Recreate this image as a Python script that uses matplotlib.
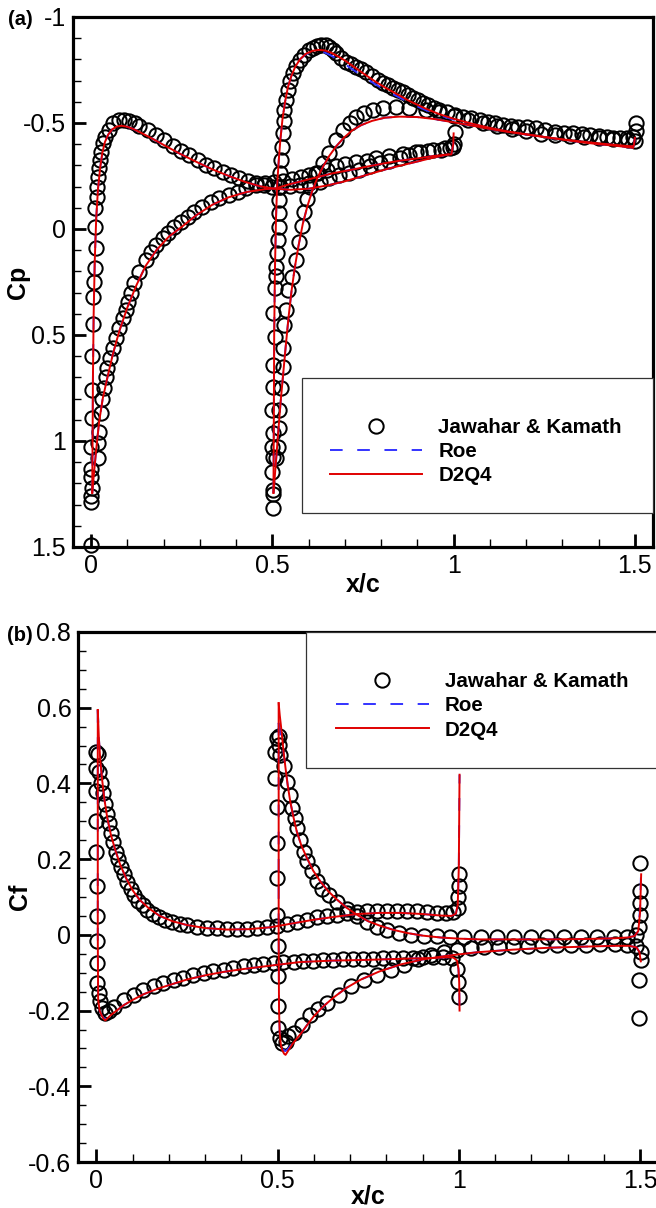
import matplotlib
matplotlib.use('Agg')
import matplotlib.pyplot as plt
from matplotlib.ticker import MultipleLocator, FuncFormatter
from matplotlib.patches import Rectangle
from matplotlib.lines import Line2D

plt.rcParams['font.family'] = ['Liberation Sans', 'DejaVu Sans']
plt.rcParams['axes.unicode_minus'] = False

# ---------------- Panel (a): Cp ----------------
# D2Q4 lines
a1u_x = [0.003, 0.004, 0.005, 0.007, 0.010, 0.014, 0.019, 0.025, 0.031, 0.038, 0.047, 0.058, 0.070, 0.083, 0.098, 0.115, 0.140, 0.170, 0.205, 0.245, 0.290, 0.335, 0.380, 0.425, 0.465, 0.505, 0.550, 0.600, 0.650, 0.700, 0.760, 0.820, 0.880, 0.940, 0.985]
a1u_cp = [1.245, 1.00, 0.70, 0.40, 0.15, -0.05, -0.19, -0.29, -0.36, -0.41, -0.445, -0.47, -0.483, -0.487, -0.483, -0.473, -0.452, -0.425, -0.392, -0.355, -0.317, -0.281, -0.250, -0.222, -0.202, -0.190, -0.185, -0.190, -0.205, -0.225, -0.255, -0.285, -0.310, -0.335, -0.352]
a1l_x = [0.003, 0.008, 0.014, 0.022, 0.032, 0.045, 0.060, 0.078, 0.100, 0.125, 0.150, 0.180, 0.215, 0.250, 0.290, 0.335, 0.380, 0.430, 0.480, 0.510, 0.545, 0.575, 0.620, 0.667, 0.720, 0.760, 0.810, 0.851, 0.900, 0.943, 0.975, 0.994, 0.999, 1.000]
a1l_cp = [1.245, 1.150, 1.040, 0.910, 0.800, 0.700, 0.590, 0.480, 0.370, 0.265, 0.175, 0.100, 0.035, -0.010, -0.065, -0.115, -0.150, -0.175, -0.188, -0.192, -0.210, -0.223, -0.243, -0.263, -0.280, -0.294, -0.310, -0.322, -0.333, -0.344, -0.350, -0.352, -0.400, -0.451]
a2u_x = [0.503, 0.504, 0.505, 0.507, 0.510, 0.513, 0.517, 0.522, 0.528, 0.535, 0.543, 0.552, 0.563, 0.576, 0.592, 0.610, 0.628, 0.645, 0.662, 0.680, 0.700, 0.725, 0.750, 0.780, 0.810, 0.845, 0.880, 0.920, 0.960, 1.000, 1.050, 1.100, 1.150, 1.200, 1.250, 1.300, 1.350, 1.400, 1.450, 1.490, 1.497, 1.500]
a2u_cp = [1.245, 0.900, 0.500, 0.200, -0.050, -0.200, -0.310, -0.420, -0.520, -0.600, -0.670, -0.720, -0.765, -0.800, -0.826, -0.840, -0.845, -0.842, -0.832, -0.815, -0.795, -0.765, -0.735, -0.700, -0.668, -0.635, -0.602, -0.570, -0.542, -0.520, -0.497, -0.477, -0.460, -0.447, -0.434, -0.423, -0.413, -0.404, -0.396, -0.390, -0.392, -0.430]
a2l_x = [0.503, 0.507, 0.512, 0.517, 0.523, 0.530, 0.537, 0.545, 0.553, 0.562, 0.572, 0.584, 0.597, 0.610, 0.624, 0.640, 0.657, 0.676, 0.697, 0.720, 0.745, 0.775, 0.810, 0.850, 0.900, 0.950, 1.000, 1.050, 1.100, 1.150, 1.200, 1.250, 1.300, 1.350, 1.400, 1.450, 1.495]
a2l_cp = [1.245, 1.160, 1.050, 0.940, 0.810, 0.680, 0.550, 0.410, 0.290, 0.180, 0.080, -0.025, -0.110, -0.180, -0.240, -0.295, -0.345, -0.390, -0.430, -0.465, -0.490, -0.510, -0.525, -0.530, -0.528, -0.518, -0.503, -0.488, -0.472, -0.458, -0.446, -0.434, -0.422, -0.410, -0.400, -0.392, -0.383]
# Roe (differs slightly on the second airfoil's upper surface)
roe_a2u_cp = [1.245, 0.900, 0.500, 0.200, -0.050, -0.200, -0.310, -0.420, -0.520, -0.600, -0.670, -0.720, -0.765, -0.800, -0.824, -0.836, -0.838, -0.832, -0.818, -0.800, -0.778, -0.748, -0.720, -0.687, -0.656, -0.625, -0.594, -0.563, -0.537, -0.516, -0.495, -0.476, -0.459, -0.446, -0.433, -0.422, -0.412, -0.403, -0.395, -0.389, -0.391, -0.430]

# Jawahar & Kamath circles
ja1u_x = [0.001, -0.001, 0.000, 0.002, -0.001, 0.001, -0.001, 0.002, 0.002, 0.002, 0.006, 0.006, 0.008, 0.010, 0.013, 0.011, 0.011, 0.015, 0.017, 0.019, 0.022, 0.025, 0.028, 0.033, 0.039, 0.048, 0.059, 0.077, 0.092, 0.105, 0.120, 0.133, 0.156, 0.179, 0.202, 0.225, 0.248, 0.271, 0.294, 0.317, 0.340, 0.363, 0.386, 0.409, 0.432, 0.455, 0.478, 0.500, 0.520, 0.548, 0.575, 0.602, 0.630, 0.657, 0.685, 0.712, 0.740, 0.768, 0.796, 0.823, 0.851, 0.878, 0.906, 0.943, 0.975, 0.998, 1.003]
ja1u_cp = [1.490, 1.290, 1.260, 1.220, 1.170, 1.130, 1.030, 0.890, 0.760, 0.600, 0.450, 0.320, 0.250, 0.186, 0.091, -0.011, -0.097, -0.152, -0.200, -0.247, -0.286, -0.325, -0.365, -0.404, -0.435, -0.467, -0.498, -0.514, -0.516, -0.511, -0.500, -0.486, -0.467, -0.443, -0.420, -0.392, -0.369, -0.349, -0.325, -0.302, -0.286, -0.270, -0.255, -0.239, -0.228, -0.215, -0.208, -0.200, -0.200, -0.205, -0.208, -0.215, -0.223, -0.240, -0.255, -0.265, -0.278, -0.295, -0.310, -0.322, -0.333, -0.350, -0.365, -0.373, -0.380, -0.389, -0.459]
ja1l_x = [0.020, 0.019, 0.022, 0.027, 0.031, 0.036, 0.041, 0.045, 0.052, 0.059, 0.068, 0.077, 0.087, 0.096, 0.103, 0.111, 0.119, 0.133, 0.151, 0.165, 0.179, 0.197, 0.211, 0.229, 0.248, 0.266, 0.285, 0.307, 0.331, 0.354, 0.381, 0.404, 0.427, 0.455, 0.480, 0.505, 0.530, 0.555, 0.580, 0.602, 0.625, 0.650, 0.676, 0.700, 0.730, 0.760, 0.786, 0.823, 0.860, 0.897, 0.930, 0.965, 0.990, 1.002]
ja1l_cp = [1.080, 1.010, 0.956, 0.870, 0.800, 0.750, 0.700, 0.657, 0.610, 0.560, 0.515, 0.468, 0.421, 0.382, 0.343, 0.300, 0.256, 0.201, 0.146, 0.107, 0.075, 0.044, 0.020, -0.011, -0.034, -0.058, -0.082, -0.105, -0.129, -0.145, -0.160, -0.176, -0.192, -0.208, -0.215, -0.220, -0.225, -0.235, -0.245, -0.255, -0.265, -0.280, -0.295, -0.305, -0.315, -0.322, -0.333, -0.345, -0.355, -0.363, -0.370, -0.375, -0.380, -0.400]
ja2u_x = [0.501, 0.501, 0.501, 0.499, 0.501, 0.499, 0.501, 0.499, 0.501, 0.501,
          0.506, 0.501, 0.506, 0.509, 0.510, 0.512, 0.515, 0.517, 0.519, 0.519,
          0.519, 0.522, 0.524, 0.526, 0.528, 0.531, 0.533, 0.537, 0.542, 0.548,
          0.556, 0.565, 0.575, 0.588, 0.602, 0.611, 0.623, 0.635, 0.647, 0.657,
          0.667, 0.676, 0.690, 0.703, 0.717, 0.731, 0.745, 0.759, 0.775, 0.791,
          0.805, 0.818, 0.832, 0.846, 0.860, 0.874, 0.888, 0.901, 0.915, 0.929,
          0.945, 0.961, 0.982, 1.003, 1.026, 1.049, 1.072, 1.095, 1.115, 1.136,
          1.157, 1.178, 1.203, 1.228, 1.253, 1.279, 1.305, 1.330, 1.353, 1.376,
          1.400, 1.422, 1.440, 1.459, 1.478, 1.495, 1.504, 1.504]
ja2u_cp = [1.318, 1.250, 1.231, 1.145, 1.074, 1.027, 0.964, 0.854, 0.744, 0.642,
           0.508, 0.398, 0.280, 0.220, 0.178, 0.115, 0.052, -0.011, -0.074, -0.137,
           -0.200, -0.263, -0.325, -0.388, -0.451, -0.510, -0.561, -0.610, -0.656, -0.700,
           -0.734, -0.768, -0.797, -0.821, -0.844, -0.852, -0.862, -0.868, -0.866, -0.860,
           -0.845, -0.829, -0.808, -0.789, -0.777, -0.766, -0.754, -0.742, -0.722, -0.703,
           -0.690, -0.679, -0.667, -0.656, -0.644, -0.632, -0.620, -0.608, -0.596, -0.585,
           -0.573, -0.561, -0.550, -0.538, -0.530, -0.522, -0.514, -0.506, -0.498, -0.491,
           -0.487, -0.483, -0.479, -0.475, -0.467, -0.459, -0.455, -0.451, -0.447, -0.443,
           -0.439, -0.435, -0.431, -0.428, -0.430, -0.435, -0.460, -0.498]
ja2l_x = [0.510, 0.515, 0.519, 0.519, 0.524, 0.528, 0.528, 0.533, 0.538, 0.542,
          0.555, 0.566, 0.574, 0.581, 0.588, 0.596, 0.605, 0.621, 0.639, 0.657,
          0.676, 0.694, 0.713, 0.731, 0.754, 0.777, 0.805, 0.842, 0.878, 0.925,
          0.961, 1.000, 1.040, 1.080, 1.120, 1.160, 1.200, 1.240, 1.280, 1.320,
          1.360, 1.400, 1.440, 1.480, 1.500]
ja2l_cp = [1.082, 1.027, 0.940, 0.854, 0.752, 0.649, 0.563, 0.453, 0.382, 0.288,
           0.225, 0.146, 0.060, -0.015, -0.080, -0.140, -0.200, -0.263, -0.310, -0.357,
           -0.420, -0.467, -0.498, -0.530, -0.546, -0.561, -0.569, -0.577, -0.569, -0.561,
           -0.553, -0.535, -0.515, -0.500, -0.485, -0.470, -0.460, -0.450, -0.445, -0.440,
           -0.435, -0.430, -0.425, -0.420, -0.415]

# ---------------- Panel (b): Cf ----------------
b1u_x = [0.004, 0.007, 0.011, 0.016, 0.022, 0.030, 0.040, 0.052, 0.066, 0.082,
         0.100, 0.120, 0.145, 0.175, 0.210, 0.250, 0.300, 0.360, 0.420, 0.480,
         0.540, 0.600, 0.660, 0.720, 0.780, 0.840, 0.900, 0.950, 0.980, 0.992,
         0.997, 1.000, 1.002]
b1u_cf = [0.594, 0.520, 0.460, 0.410, 0.360, 0.310, 0.265, 0.225, 0.185, 0.150,
          0.118, 0.092, 0.070, 0.050, 0.036, 0.026, 0.018, 0.014, 0.015, 0.020,
          0.030, 0.040, 0.048, 0.055, 0.058, 0.058, 0.055, 0.051, 0.050, 0.056,
          0.080, 0.180, 0.423]
b1l_x = [0.004, 0.004, 0.005, 0.009, 0.015, 0.020, 0.025, 0.030, 0.040, 0.056,
         0.075, 0.100, 0.130, 0.170, 0.210, 0.250, 0.300, 0.350, 0.400, 0.450,
         0.500, 0.560, 0.650, 0.750, 0.850, 0.930, 0.970, 0.985, 0.995, 0.999,
         1.001, 1.002]
b1l_cf = [0.594, 0.000, -0.170, -0.200, -0.213, -0.222, -0.226, -0.221, -0.212, -0.200,
          -0.186, -0.172, -0.157, -0.142, -0.130, -0.118, -0.107, -0.098, -0.091, -0.085,
          -0.079, -0.072, -0.068, -0.066, -0.063, -0.061, -0.059, -0.060, -0.068, -0.090,
          -0.125, -0.200]
roe_b1l_cf = [0.594, 0.000, -0.170, -0.200, -0.213, -0.220, -0.222, -0.219, -0.211, -0.200,
              -0.186, -0.172, -0.157, -0.142, -0.130, -0.118, -0.107, -0.098, -0.091, -0.085,
              -0.079, -0.072, -0.068, -0.066, -0.063, -0.061, -0.059, -0.060, -0.068, -0.090,
              -0.125, -0.215]
b2u_x = [0.503, 0.506, 0.509, 0.512, 0.517, 0.522, 0.528, 0.535, 0.544, 0.553,
         0.566, 0.581, 0.598, 0.618, 0.640, 0.664, 0.690, 0.719, 0.750, 0.783,
         0.820, 0.857, 0.900, 0.950, 1.000, 1.060, 1.150, 1.250, 1.350, 1.430,
         1.466, 1.485, 1.495, 1.500, 1.503]
b2u_cf = [0.612, 0.580, 0.555, 0.528, 0.480, 0.440, 0.395, 0.352, 0.310, 0.273,
          0.235, 0.203, 0.170, 0.141, 0.115, 0.093, 0.072, 0.053, 0.036, 0.024,
          0.013, 0.005, -0.002, -0.007, -0.010, -0.012, -0.012, -0.012, -0.011, -0.009,
          -0.007, -0.003, 0.010, 0.060, 0.160]
roe_b2u_cf = [0.560, 0.545, 0.530, 0.515, 0.478, 0.440, 0.395, 0.352, 0.310, 0.273,
              0.235, 0.203, 0.170, 0.141, 0.115, 0.093, 0.072, 0.053, 0.036, 0.024,
              0.013, 0.005, -0.002, -0.007, -0.010, -0.012, -0.012, -0.012, -0.011, -0.009,
              -0.007, -0.003, 0.010, 0.070, 0.176]
b2l_x = [0.503, 0.503, 0.504, 0.506, 0.509, 0.513, 0.518, 0.522, 0.530, 0.540,
         0.552, 0.565, 0.580, 0.600, 0.625, 0.655, 0.690, 0.730, 0.780, 0.840,
         0.900, 0.970, 1.050, 1.150, 1.250, 1.350, 1.430, 1.470, 1.490, 1.498,
         1.502]
b2l_cf = [0.612, 0.000, -0.200, -0.260, -0.290, -0.305, -0.314, -0.317, -0.305, -0.290,
          -0.275, -0.260, -0.240, -0.215, -0.190, -0.165, -0.140, -0.118, -0.097, -0.078,
          -0.065, -0.055, -0.046, -0.039, -0.034, -0.031, -0.029, -0.029, -0.033, -0.045,
          -0.070]
roe_b2l_cf = [0.560, 0.000, -0.200, -0.258, -0.285, -0.298, -0.305, -0.307, -0.300, -0.288,
              -0.275, -0.260, -0.240, -0.215, -0.190, -0.165, -0.140, -0.118, -0.097, -0.078,
              -0.065, -0.055, -0.046, -0.039, -0.034, -0.031, -0.029, -0.029, -0.033, -0.045,
              -0.070]

jb1u_x = [0.000, 0.005, 0.000, 0.008, 0.013, 0.018, 0.024, 0.029, 0.035, 0.041,
          0.047, 0.054, 0.060, 0.068, 0.076, 0.085, 0.095, 0.105, 0.116, 0.128,
          0.140, 0.155, 0.172, 0.190, 0.210, 0.230, 0.250, 0.278, 0.305, 0.333,
          0.361, 0.389, 0.416, 0.444, 0.471, 0.499, 0.527, 0.554, 0.582, 0.610,
          0.637, 0.664, 0.692, 0.720, 0.747, 0.775, 0.802, 0.830, 0.857, 0.885,
          0.913, 0.940, 0.965, 0.985, 0.997, 0.999, 1.000, 1.001]
jb1u_cf = [0.482, 0.478, 0.440, 0.430, 0.400, 0.375, 0.345, 0.320, 0.295, 0.270,
           0.245, 0.220, 0.200, 0.180, 0.160, 0.140, 0.120, 0.105, 0.090, 0.078,
           0.066, 0.056, 0.047, 0.040, 0.034, 0.029, 0.025, 0.022, 0.019, 0.017,
           0.016, 0.016, 0.016, 0.018, 0.020, 0.024, 0.029, 0.034, 0.040, 0.046,
           0.050, 0.053, 0.057, 0.060, 0.062, 0.064, 0.064, 0.064, 0.063, 0.062,
           0.060, 0.058, 0.058, 0.060, 0.072, 0.100, 0.130, 0.160]
jb1l_x = [0.000, 0.000, 0.000, 0.001, 0.001, 0.001, 0.001, 0.001, 0.006, 0.010,
          0.015, 0.024, 0.036, 0.050, 0.075, 0.103, 0.130, 0.158, 0.185, 0.213,
          0.240, 0.268, 0.296, 0.323, 0.351, 0.378, 0.406, 0.434, 0.461, 0.489,
          0.516, 0.544, 0.571, 0.599, 0.626, 0.654, 0.681, 0.709, 0.736, 0.764,
          0.791, 0.819, 0.846, 0.874, 0.901, 0.929, 0.956, 0.980, 0.996, 0.998,
          1.000]
jb1l_cf = [0.380, 0.300, 0.220, 0.128, 0.049, -0.017, -0.074, -0.127, -0.154, -0.175,
           -0.193, -0.206, -0.200, -0.190, -0.171, -0.158, -0.145, -0.136, -0.127, -0.118,
           -0.114, -0.107, -0.101, -0.096, -0.092, -0.088, -0.083, -0.079, -0.077, -0.074,
           -0.073, -0.072, -0.070, -0.068, -0.067, -0.066, -0.065, -0.065, -0.064, -0.063,
           -0.062, -0.061, -0.060, -0.060, -0.059, -0.058, -0.058, -0.060, -0.090, -0.125,
           -0.163]
jb2u_x = [0.498, 0.505, 0.494, 0.507, 0.503, 0.517, 0.527, 0.535, 0.540, 0.549,
          0.553, 0.563, 0.572, 0.581, 0.595, 0.608, 0.622, 0.641, 0.664, 0.692,
          0.719, 0.747, 0.775, 0.802, 0.834, 0.867, 0.903, 0.940, 0.977, 1.014,
          1.060, 1.106, 1.152, 1.198, 1.244, 1.290, 1.336, 1.382, 1.428, 1.465,
          1.490, 1.497, 1.500, 1.500, 1.500, 1.500]
jb2u_cf = [0.520, 0.525, 0.484, 0.475, 0.502, 0.445, 0.405, 0.370, 0.335, 0.308,
           0.282, 0.251, 0.220, 0.194, 0.168, 0.141, 0.120, 0.104, 0.088, 0.068,
           0.050, 0.034, 0.020, 0.012, 0.004, 0.000, -0.003, -0.004, -0.005, -0.006,
           -0.006, -0.006, -0.006, -0.006, -0.006, -0.006, -0.006, -0.006, -0.006, -0.005,
           0.000, 0.022, 0.053, 0.084, 0.115, 0.190]
jb2l_x = [0.494, 0.498, 0.498, 0.498, 0.498, 0.500, 0.500, 0.500, 0.500, 0.508,
          0.512, 0.522, 0.530, 0.544, 0.567, 0.590, 0.612, 0.637, 0.669, 0.702,
          0.738, 0.775, 0.812, 0.849, 0.886, 0.922, 0.959, 0.996, 1.033, 1.070,
          1.110, 1.150, 1.190, 1.230, 1.270, 1.310, 1.350, 1.390, 1.430, 1.465,
          1.490, 1.502, 1.502, 1.497, 1.497]
jb2l_cf = [0.414, 0.339, 0.242, 0.150, 0.053, -0.030, -0.109, -0.189, -0.246, -0.272,
           -0.286, -0.283, -0.268, -0.259, -0.237, -0.213, -0.195, -0.180, -0.158, -0.136,
           -0.118, -0.105, -0.092, -0.079, -0.065, -0.052, -0.044, -0.039, -0.035, -0.033,
           -0.031, -0.030, -0.029, -0.028, -0.027, -0.026, -0.026, -0.025, -0.025, -0.026,
           -0.030, -0.044, -0.066, -0.118, -0.220]

series_labels = ['Jawahar & Kamath', 'Roe', 'D2Q4']

RED = '#e00000'
BLUE = '#3333ff'
MS = 10.3
MEW = 1.45
LW = 1.4
DASH = (0, (6.5, 7.5))

W, H = 656, 1208
fig = plt.figure(figsize=(W / 100, H / 100), dpi=100)
axa = fig.add_axes([73 / W, 1 - 547 / H, 580 / W, 530 / H])
axb = fig.add_axes([78.2 / W, 1 - 1162 / H, 580 / W, 530 / H])

fmt = FuncFormatter(lambda v, p: '%g' % round(v, 3))


def style(ax, ymajor, yminor):
    for s in ['left', 'bottom', 'top', 'right']:
        ax.spines[s].set_linewidth(2.3)
    ax.xaxis.set_major_locator(MultipleLocator(0.5))
    ax.xaxis.set_minor_locator(MultipleLocator(0.1))
    ax.yaxis.set_major_locator(MultipleLocator(ymajor))
    ax.yaxis.set_minor_locator(MultipleLocator(yminor))
    ax.xaxis.set_major_formatter(fmt)
    ax.yaxis.set_major_formatter(fmt)
    ax.tick_params(which='major', direction='in', length=9.5, width=2.0,
                   labelsize=18, top=False, right=False)
    ax.tick_params(which='minor', direction='in', length=5.5, width=1.0,
                   top=False, right=False)
    ax.tick_params(axis='y', which='major', pad=5)
    ax.tick_params(axis='x', which='major', pad=5)


def circles(ax, x, y):
    ax.plot(x, y, linestyle='none', marker='o', ms=MS, mfc='none', mec='black',
            mew=MEW, zorder=3, clip_on=False)


def roe(ax, x, y):
    ax.plot(x, y, color=BLUE, lw=LW, linestyle=DASH, zorder=4)


def d2q4(ax, x, y):
    ax.plot(x, y, color=RED, lw=LW, zorder=5)


# ---- panel (a)
for x, y in [(ja1u_x, ja1u_cp), (ja1l_x, ja1l_cp), (ja2u_x, ja2u_cp), (ja2l_x, ja2l_cp)]:
    circles(axa, x, y)
for x, y in [(a1u_x, a1u_cp), (a1l_x, a1l_cp), (a2u_x, roe_a2u_cp), (a2l_x, a2l_cp)]:
    roe(axa, x, y)
for x, y in [(a1u_x, a1u_cp), (a1l_x, a1l_cp), (a2u_x, a2u_cp), (a2l_x, a2l_cp)]:
    d2q4(axa, x, y)
axa.set_xlim(-0.05, 1.55)
axa.set_ylim(1.5, -1.0)
style(axa, 0.5, 0.1)

# ---- panel (b)
for x, y in [(jb1u_x, jb1u_cf), (jb1l_x, jb1l_cf), (jb2u_x, jb2u_cf), (jb2l_x, jb2l_cf)]:
    circles(axb, x, y)
for x, y in [(b1u_x, b1u_cf), (b1l_x, roe_b1l_cf), (b2u_x, roe_b2u_cf), (b2l_x, roe_b2l_cf)]:
    roe(axb, x, y)
for x, y in [(b1u_x, b1u_cf), (b1l_x, b1l_cf), (b2u_x, b2u_cf), (b2l_x, b2l_cf)]:
    d2q4(axb, x, y)
axb.set_xlim(-0.05, 1.55)
axb.set_ylim(-0.6, 0.8)
style(axb, 0.2, 0.05)

# axis labels
lab = dict(fontsize=18, fontweight='bold')
axa.text(-0.095, 0.5, 'Cp', rotation=90, ha='center', va='center', transform=axa.transAxes, **lab)
axa.text(0.5, -0.070, 'x/c', ha='center', va='center', transform=axa.transAxes, **lab)
axb.text(-0.10, 0.5, 'Cf', rotation=90, ha='center', va='center', transform=axb.transAxes, **lab)
axb.text(0.5, -0.066, 'x/c', ha='center', va='center', transform=axb.transAxes, **lab)
fig.text(20.5 / W, 1 - 19.5 / H, '(a)', ha='center', va='center', fontsize=14.5, fontweight='bold')
fig.text(20 / W, 1 - 635 / H, '(b)', ha='center', va='center', fontsize=14.5, fontweight='bold')

# legends
handles = [Line2D([], [], linestyle='none', marker='o', ms=MS, mfc='none', mec='black', mew=MEW),
           Line2D([], [], color=BLUE, lw=LW, linestyle=DASH),
           Line2D([], [], color=RED, lw=LW)]

for ax, rect, anchor in [(axa, (0.395, 0.064, 0.605, 0.255), (0.443, 0.243)),
                         (axb, (0.393, 0.743, 0.62, 0.257), (0.4445, 0.924))]:
    ax.add_patch(Rectangle(rect[:2], rect[2], rect[3], transform=ax.transAxes,
                           facecolor='white', edgecolor='#333333', lw=0.9,
                           zorder=6, clip_on=False))
    leg = ax.legend(handles, series_labels, loc='upper left', bbox_to_anchor=anchor,
                    frameon=False, borderpad=0, borderaxespad=0, handlelength=4.5,
                    handletextpad=0.78, labelspacing=0.25, numpoints=1,
                    prop=dict(size=14.8, weight='bold'))
    leg.set_zorder(7)

fig.savefig('out.png', dpi=100)
